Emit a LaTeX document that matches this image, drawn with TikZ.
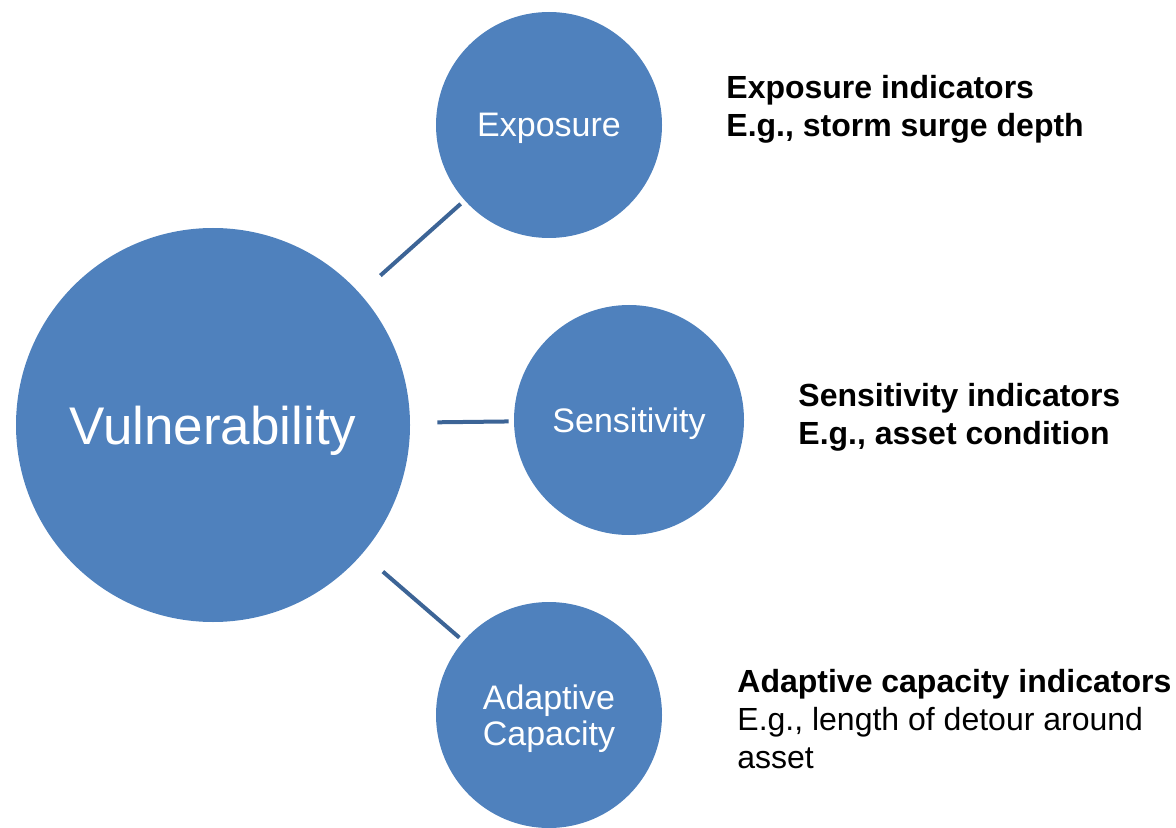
\documentclass[tikz,border=0pt]{standalone}
\usepackage{fontspec}
\setmainfont{Liberation Sans}
\usepackage{xcolor}
\usetikzlibrary{positioning}

\definecolor{circblue}{HTML}{4F81BD}
\definecolor{linkblue}{HTML}{3C6496}

\tikzset{
  bigcirc/.style={circle, fill=circblue, inner sep=0pt, minimum size=197pt,
    text=white, text depth=0pt, font=\fontsize{26.5}{31}\selectfont},
  smallcirc/.style={circle, fill=circblue, inner sep=0pt, minimum size=113pt,
    text=white, text depth=0pt, align=center, font=\fontsize{17}{18}\selectfont},
  link/.style={draw=linkblue, line width=2pt, shorten <=13.5pt, shorten >=2.5pt},
  note/.style={anchor=base west, align=left, inner sep=0pt,
    font=\fontsize{16}{19}\selectfont}
}

\begin{document}
\begin{tikzpicture}[x=0.5pt, y=-0.5pt]

  \useasboundingbox (0,0) rectangle (1176,828);

  % Define nodes
  \node[bigcirc] (vul) at (213,425) {Vulnerability};
  \node[smallcirc] (exp) at (549,125) {Exposure};
  \node[smallcirc, minimum size=115pt] (sen) at (629,420) {Sensitivity};
  \node[smallcirc] (ada) at (549,715) {Adaptive\\Capacity};

  % Indicator notes (placed at the baseline of their last line)
  \node[note] (expnote) at (726,137) {\textbf{Exposure indicators}\\\textbf{E.g., storm surge depth}};
  \node[note] (sennote) at (798,444) {\textbf{Sensitivity indicators}\\\textbf{E.g., asset condition}};
  \node[note] (adanote) at (737,768) {\textbf{Adaptive capacity indicators}\\E.g., length of detour around\\asset};

  % Connect nodes
  \draw[link] (vul) -- (exp);
  \draw[link] (vul) -- (sen);
  \draw[link] (vul) -- (ada);

\end{tikzpicture}
\end{document}
